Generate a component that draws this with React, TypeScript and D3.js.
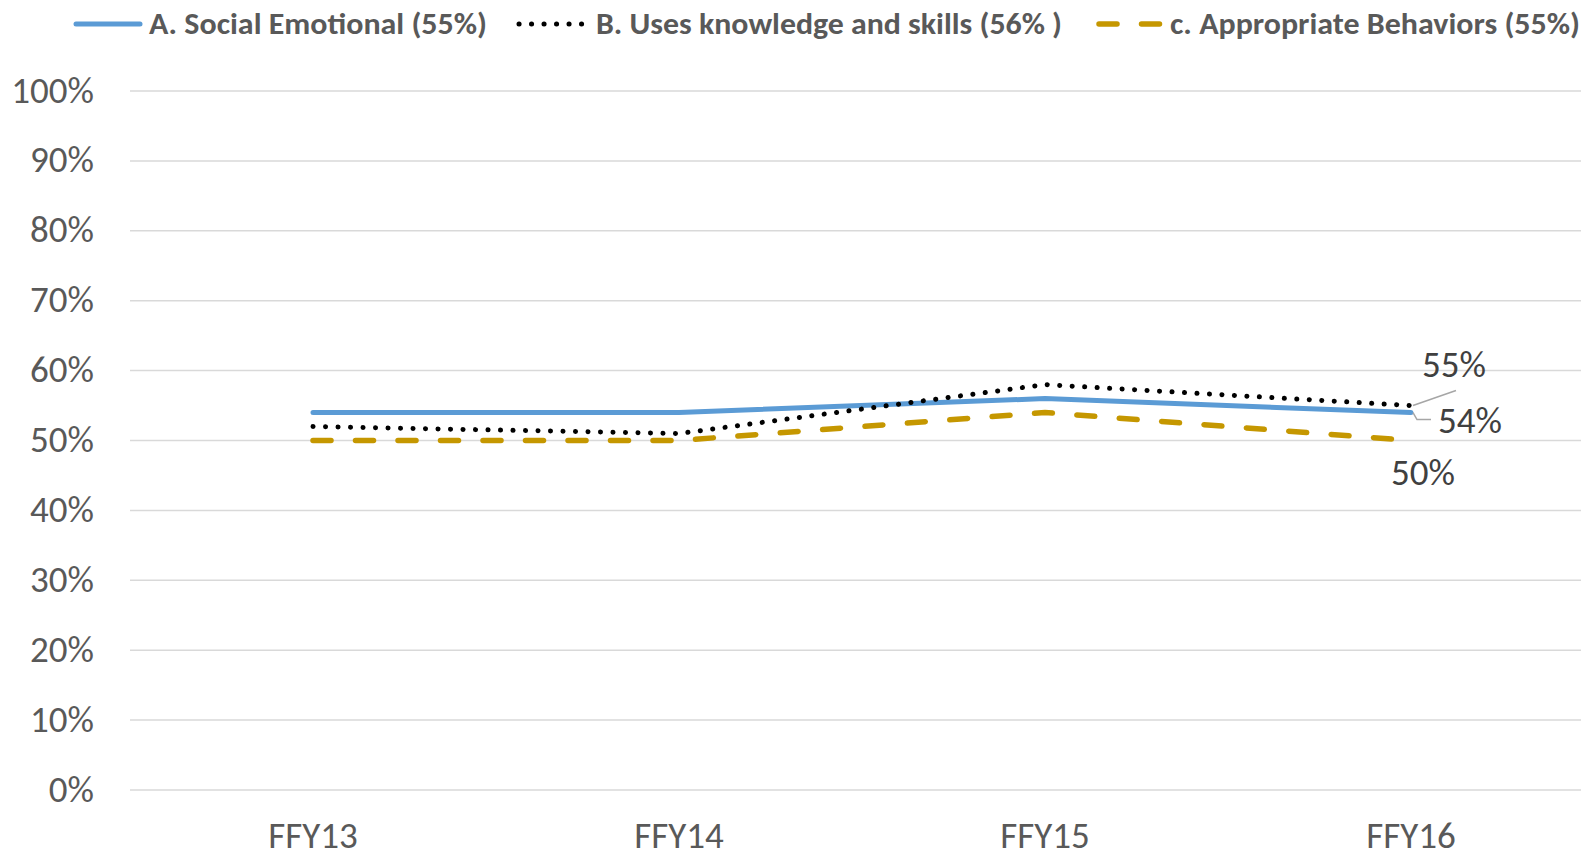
import React from 'react';
import { scalePoint, scaleLinear, line } from 'd3';

const categories = ['FFY13', 'FFY14', 'FFY15', 'FFY16'];
const socialEmotional = [54, 54, 56, 54];
const usesKnowledge = [52, 51, 58, 55];
const appropriateBehaviors = [50, 50, 54, 50];
const yTicks = [0, 10, 20, 30, 40, 50, 60, 70, 80, 90, 100];
const legendLabels = [
    'A. Social Emotional (55%)',
    'B. Uses knowledge and skills (56% )',
    'c. Appropriate Behaviors (55%)',
];

const width = 1581;
const height = 852;
const left = 130;
const top = 91;
const bottom = 790;
const font = "Carlito, 'Liberation Sans', Arial, sans-serif";

const blue = '#5B9BD5';
const gold = '#C59700';

function App() {
    const xScale = scalePoint<string>()
        .domain(categories)
        .range([left, 1594])
        .padding(0.5);

    const yScale = scaleLinear()
        .domain([0, 100])
        .range([bottom, top]);

    const makeLine = line<number>()
        .x((d, i) => xScale(categories[i]) as number)
        .y(d => yScale(d));

    const lastX = xScale(categories[3]) as number;
    const lastA = yScale(socialEmotional[3]);
    const lastB = yScale(usesKnowledge[3]);
    const lastC = yScale(appropriateBehaviors[3]);

    return (
        <svg width={width} height={height}
            style={{ position: 'absolute', left: 0, top: 0, display: 'block', background: '#fff' }}>
            {/* grid + y labels */}
            {yTicks.map(t => (
                <g key={t}>
                    <line x1={left} x2={width} y1={yScale(t)} y2={yScale(t)}
                        stroke="#D9D9D9" strokeWidth={1.5} />
                    <text x={94} y={yScale(t) + 11.5} textAnchor="end" fontFamily={font}
                        fontSize={37} fill="#595959">{t}%</text>
                </g>
            ))}

            {/* x labels */}
            {categories.map(c => (
                <text key={c} x={xScale(c)} y={848} textAnchor="middle" fontFamily={font}
                    fontSize={37} fill="#595959">{c}</text>
            ))}

            {/* series */}
            <path d={makeLine(socialEmotional) ?? ''} fill="none" stroke={blue}
                strokeWidth={5} strokeLinecap="round" strokeLinejoin="round" />
            <path d={makeLine(usesKnowledge) ?? ''} fill="none" stroke="#000"
                strokeWidth={5} strokeLinecap="round" strokeDasharray="0.1 12.4" />
            <path d={makeLine(appropriateBehaviors) ?? ''} fill="none" stroke={gold}
                strokeWidth={5.5} strokeLinecap="round" strokeDasharray="18 24.5" />

            {/* data labels with leader lines */}
            <polyline points={`${lastX + 2},${lastB} ${lastX + 45},${lastB - 15}`}
                fill="none" stroke="#A6A6A6" strokeWidth={1.5} />
            <text x={1454} y={377} textAnchor="middle" fontFamily={font} fontSize={37}
                fill="#404040">{usesKnowledge[3]}%</text>
            <polyline points={`${lastX + 2},${lastA} ${lastX + 6},${lastA + 7} ${lastX + 20},${lastA + 7}`}
                fill="none" stroke="#A6A6A6" strokeWidth={1.5} />
            <text x={1470} y={433} textAnchor="middle" fontFamily={font} fontSize={37}
                fill="#404040">{socialEmotional[3]}%</text>
            <text x={lastX + 12} y={lastC + 44} textAnchor="middle" fontFamily={font} fontSize={37}
                fill="#404040">{appropriateBehaviors[3]}%</text>

            {/* legend */}
            <g fontFamily={font} fontSize={30} fontWeight="bold" fill="#595959">
                <line x1={76} x2={140} y1={24} y2={24} stroke={blue} strokeWidth={5} strokeLinecap="round" />
                <text x={149} y={34} textLength={338} lengthAdjust="spacingAndGlyphs">{legendLabels[0]}</text>
                <line x1={519} x2={585} y1={24} y2={24} stroke="#000" strokeWidth={5}
                    strokeLinecap="round" strokeDasharray="0.1 12.4" />
                <text x={596} y={34} textLength={466} lengthAdjust="spacingAndGlyphs">{legendLabels[1]}</text>
                <line x1={1099} x2={1160} y1={24} y2={24} stroke={gold} strokeWidth={5.5}
                    strokeLinecap="round" strokeDasharray="18 24.5" />
                <text x={1170} y={34} textLength={410} lengthAdjust="spacingAndGlyphs">{legendLabels[2]}</text>
            </g>
        </svg>
    );
}

export default App;
